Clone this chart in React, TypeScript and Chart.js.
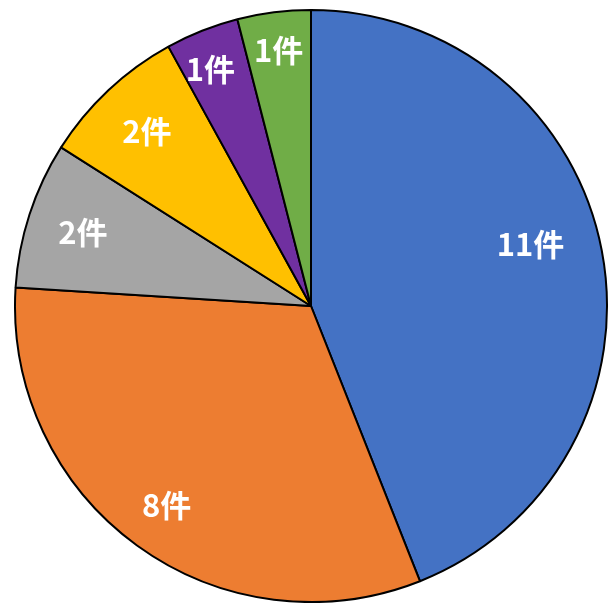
import React, { useEffect, useRef } from "react";
import { Chart, registerables } from "chart.js";

Chart.register(...registerables);

const categories = ["A", "B", "C", "D", "E", "F"];
const counts = [11, 8, 2, 2, 1, 1];
const sliceLabels = ["11件", "8件", "2件", "2件", "1件", "1件"];
const sliceColors = ["#4472C4", "#ED7D31", "#A5A5A5", "#FFC000", "#7030A0", "#70AD47"];
// label placement: fraction of radius and angle shift (degrees)
const labelRadius = [0.77, 0.83, 0.81, 0.81, 0.87, 0.87];
const labelShift = [-4.8, 0, 0, 0, -1.4, 0];

const labelPlugin = {
  id: "sliceLabels",
  afterDatasetsDraw(chart: any) {
    const ctx = chart.ctx;
    const meta = chart.getDatasetMeta(0);
    ctx.save();
    ctx.fillStyle = "#FFFFFF";
    ctx.font = "bold 31px 'Noto Sans CJK JP', 'Noto Sans', sans-serif";
    ctx.textAlign = "center";
    ctx.textBaseline = "middle";
    meta.data.forEach((arc: any, i: number) => {
      const { x, y, startAngle, endAngle, outerRadius } = arc.getProps(
        ["x", "y", "startAngle", "endAngle", "outerRadius"],
        true
      );
      const mid = (startAngle + endAngle) / 2 + (labelShift[i] * Math.PI) / 180;
      const r = outerRadius * labelRadius[i];
      ctx.fillText(sliceLabels[i], x + Math.cos(mid) * r, y + Math.sin(mid) * r);
    });
    ctx.restore();
  },
};

export default function App() {
  const ref = useRef<HTMLCanvasElement>(null);
  useEffect(() => {
    document.body.style.margin = "0";
    const chart = new Chart(ref.current!, {
      type: "pie",
      data: {
        labels: categories,
        datasets: [
          {
            data: counts,
            backgroundColor: sliceColors,
            borderColor: "#000000",
            borderWidth: 2,
          },
        ],
      },
      options: {
        responsive: false,
        animation: false,
        layout: { padding: { left: 14, right: 2, top: 9, bottom: 0 } },
        plugins: {
          legend: { display: false },
          tooltip: { enabled: false },
        },
      },
      plugins: [labelPlugin],
    });
    return () => chart.destroy();
  }, []);
  return (
    <div style={{ width: 610, height: 603, background: "#fff" }}>
      <canvas ref={ref} width={610} height={603} />
    </div>
  );
}
